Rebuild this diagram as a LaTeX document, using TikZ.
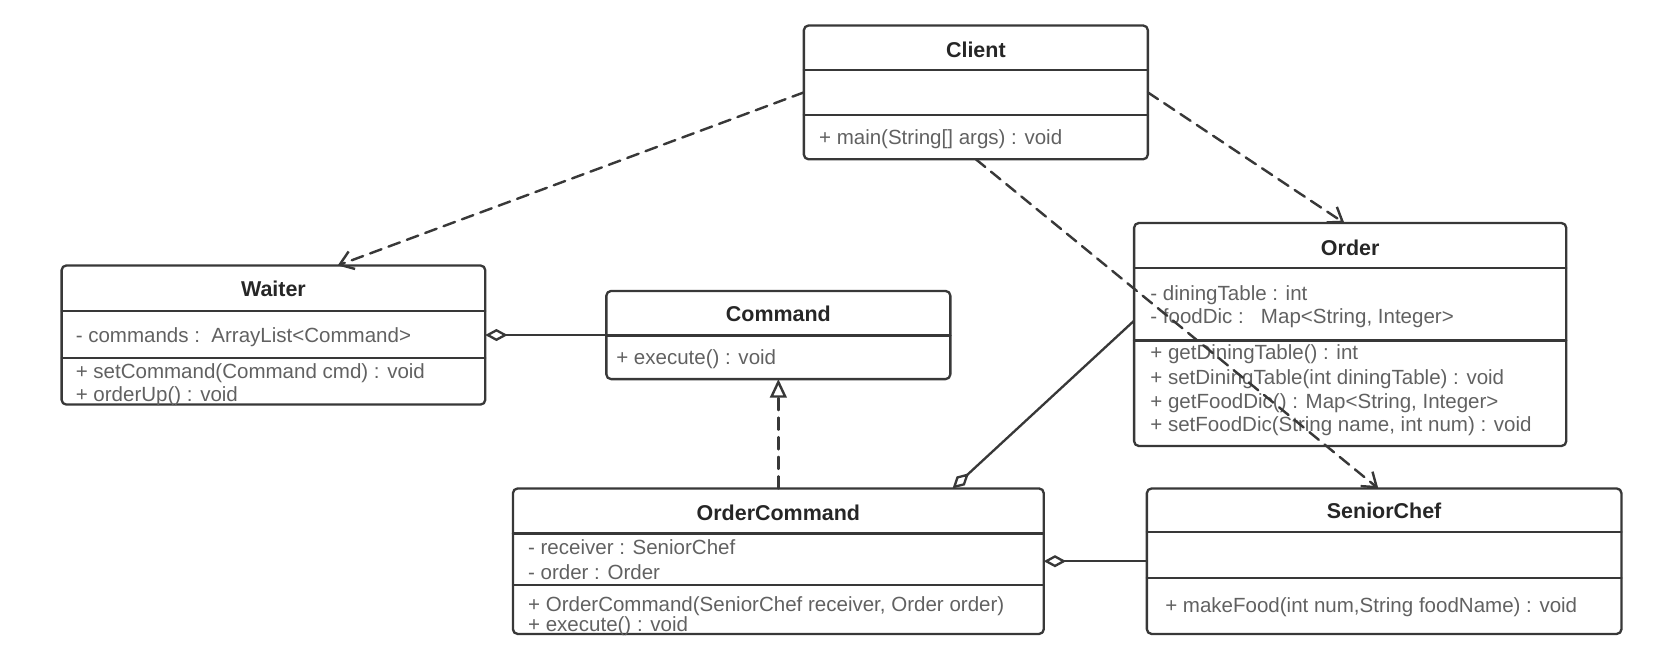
\documentclass[tikz,border=0pt]{standalone}
\usepackage{fontspec}
\setmainfont{Liberation Sans}
\usepackage{tikz}
\usetikzlibrary{calc}
\usetikzlibrary{arrows.meta}
\definecolor{uququq}{rgb}{0.22,0.22,0.22}
\definecolor{wwwwww}{rgb}{0.38,0.38,0.38}
\definecolor{sqsqsq}{rgb}{0.15,0.15,0.15}
\tikzstyle{every node}=[font=\fontsize{11}{13}\selectfont]
\begin{document}
\begin{tikzpicture}[line cap=round,line join=round,x=0.02cm,y=-0.02cm,
  classbox/.style={draw=uququq,line width=1.25pt,rounded corners=2.5pt,inner sep=0pt,outer sep=0pt},
  sepline/.style={draw=uququq,line width=1.25pt},
  classtitle/.style={text=sqsqsq,font=\fontsize{11.5}{13}\selectfont\bfseries},
  member/.style={text=wwwwww,anchor=west,inner sep=0pt,text height=8pt,text depth=2.5pt},
  depends/.style={draw=uququq,line width=1.3pt,dash pattern=on 6.5pt off 4pt,-{Straight Barb[length=7pt,width=10pt]}},
  realizes/.style={draw=uququq,line width=1.3pt,dash pattern=on 6.5pt off 4pt,-{Triangle[open,length=10pt,width=9pt]}},
  aggregates/.style={draw=uququq,line width=1.25pt,{Diamond[open,length=12pt,width=6.5pt]}-}]
\useasboundingbox (0,0) rectangle (1568,613);
% class boxes
\node [classbox,minimum width=6.48cm,minimum height=2.52cm] (client) at (919,87) {};
\node [classbox,minimum width=7.98cm,minimum height=2.62cm] (waiter) at (257.5,315.5) {};
\node [classbox,minimum width=6.48cm,minimum height=1.66cm] (command) at (733,315.5) {};
\node [classbox,minimum width=8.14cm,minimum height=4.2cm] (order) at (1271.5,315) {};
\node [classbox,minimum width=10cm,minimum height=2.74cm] (ordercmd) at (733,528.5) {};
\node [classbox,minimum width=8.94cm,minimum height=2.74cm] (seniorchef) at (1303.5,528.5) {};
% compartments
\draw [sepline] (client.west |- 0,66) -- (client.east |- 0,66);
\draw [sepline] (client.west |- 0,108.6) -- (client.east |- 0,108.6);
\draw [sepline] (waiter.west |- 0,292.7) -- (waiter.east |- 0,292.7);
\draw [sepline] (waiter.west |- 0,337) -- (waiter.east |- 0,337);
\draw [sepline] (command.west |- 0,315.8) -- (command.east |- 0,315.8);
\draw [sepline] (order.west |- 0,252.6) -- (order.east |- 0,252.6);
\draw [sepline] (order.west |- 0,320.6) -- (order.east |- 0,320.6);
\draw [sepline] (ordercmd.west |- 0,502.3) -- (ordercmd.east |- 0,502.3);
\draw [sepline] (ordercmd.west |- 0,551) -- (ordercmd.east |- 0,551);
\draw [sepline] (seniorchef.west |- 0,500.7) -- (seniorchef.east |- 0,500.7);
\draw [sepline] (seniorchef.west |- 0,544.6) -- (seniorchef.east |- 0,544.6);
% titles
\node [classtitle] (client-t) at (919,47) {Client};
\node [classtitle] (waiter-t) at (257.5,272) {Waiter};
\node [classtitle] (command-t) at (733,296) {Command};
\node [classtitle] (order-t) at (1271.5,233) {Order};
\node [classtitle] (ordercmd-t) at (733,482.5) {OrderCommand};
\node [classtitle] (seniorchef-t) at (1303.5,481.5) {SeniorChef};
% members
\node [member] (client-m1) at (771,131) {+ main(String[] args) : void};
\node [member] (waiter-a1) at (71,317.5) {- commands :\ \ ArrayList<Command>};
\node [member] (waiter-m1) at (71,351.6) {+ setCommand(Command cmd) : void};
\node [member] (waiter-m2) at (71,372.8) {+ orderUp() : void};
\node [member] (command-m1) at (580,338.5) {+ execute() : void};
\node [member] (order-a1) at (1083,278.3) {- diningTable : int};
\node [member] (order-a2) at (1083,299.6) {- foodDic :\ \ \ Map<String, Integer>};
\node [member] (order-m1) at (1083,334) {+ getDiningTable() : int};
\node [member] (order-m2) at (1083,357) {+ setDiningTable(int diningTable) : void};
\node [member] (order-m3) at (1083,379.5) {+ getFoodDic() : Map<String, Integer>};
\node [member] (order-m4) at (1083,401.7) {+ setFoodDic(String name, int num) : void};
\node [member] (ordercmd-a1) at (497,517.6) {- receiver : SeniorChef};
\node [member] (ordercmd-a2) at (497,541) {- order : Order};
\node [member] (ordercmd-m1) at (497,570.7) {+ OrderCommand(SeniorChef receiver, Order order)};
\node [member] (ordercmd-m2) at (497,589.7) {+ execute() : void};
\node [member] (seniorchef-m1) at (1097,571.6) {+ makeFood(int num,String foodName) : void};
% relations
\draw [aggregates] (waiter.east) -- (command.west);
\draw [aggregates] (ordercmd.east) -- (seniorchef.west);
\draw [aggregates] (ordercmd.north -| 897,0) -- (order.west |- 0,302);
\draw [realizes] (ordercmd.north -| command.south) -- (command.south);
\draw [depends] (client.west) -- (waiter.north -| 318,0);
\draw [depends] (client.east) -- (order.north -| 1266,0);
\draw [depends] (client.south) -- (seniorchef.north -| 1298,0);
\end{tikzpicture}
\end{document}
